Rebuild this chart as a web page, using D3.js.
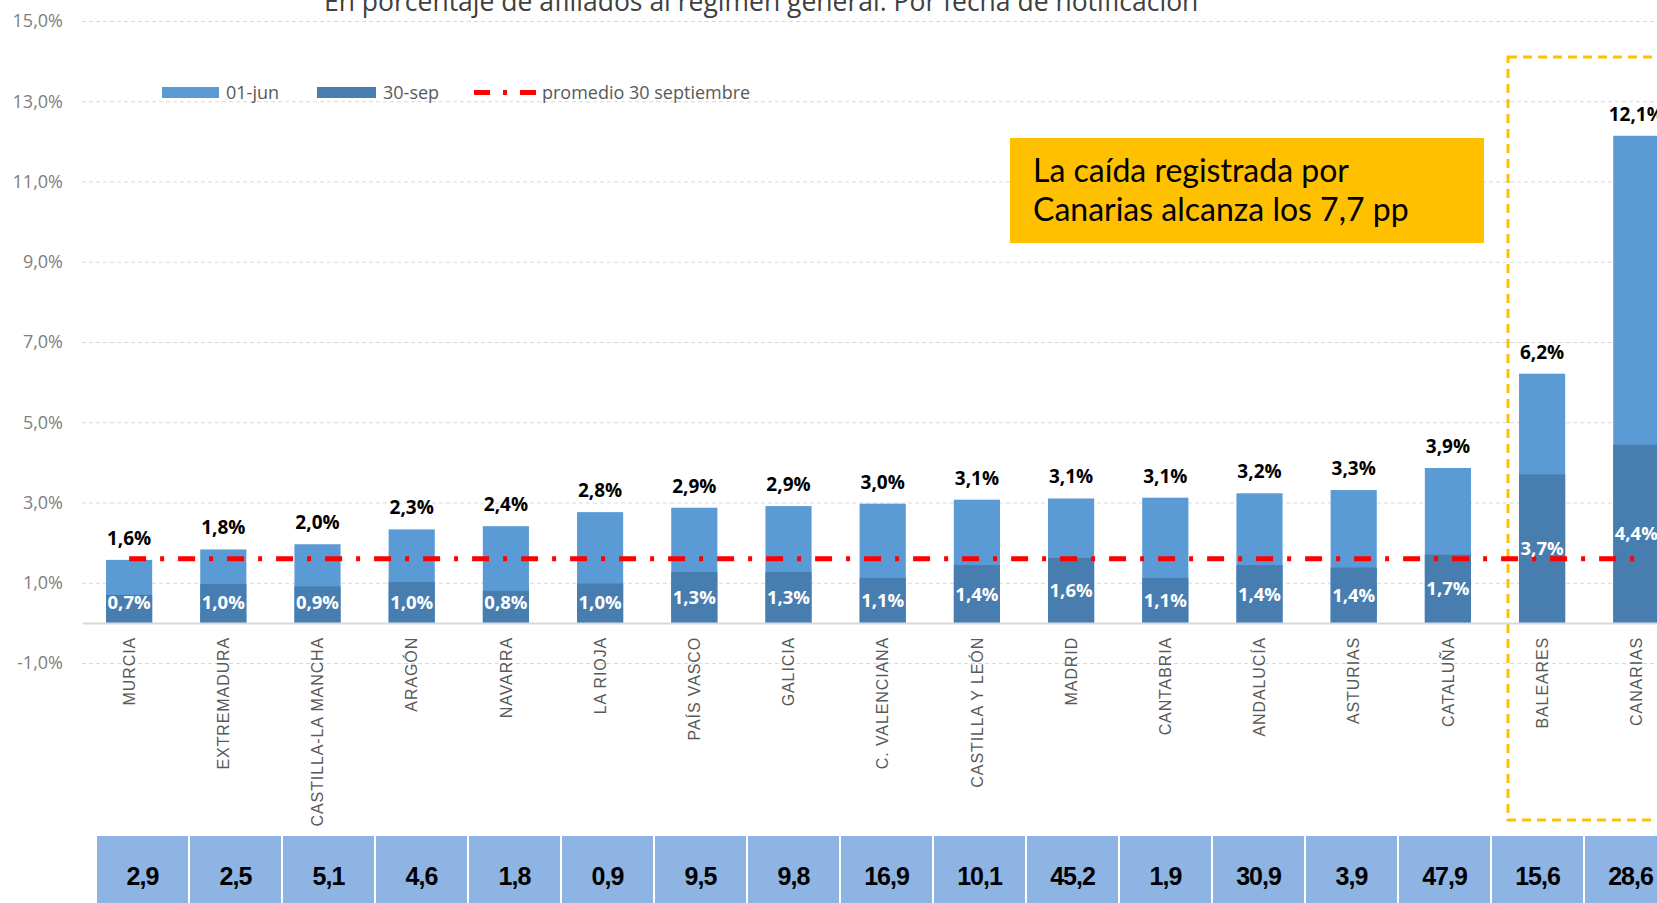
<!DOCTYPE html>
<html>
<head>
<meta charset="utf-8">
<script src="https://cdn.jsdelivr.net/npm/d3@7"></script>
<style>
  body { margin: 0; background: #fff; overflow: hidden; }
  svg { display: block; font-family: "Open Sans", sans-serif; }
</style>
</head>
<body>
<div id="container"></div>
<script>
// chart data
var regiones = ["MURCIA", "EXTREMADURA", "CASTILLA-LA MANCHA", "ARAGÓN", "NAVARRA", "LA RIOJA",
  "PAÍS VASCO", "GALICIA", "C. VALENCIANA", "CASTILLA Y LEÓN", "MADRID", "CANTABRIA",
  "ANDALUCÍA", "ASTURIAS", "CATALUÑA", "BALEARES", "CANARIAS"];
var junio = [1.57, 1.83, 1.96, 2.33, 2.41, 2.76, 2.87, 2.91, 2.97, 3.07, 3.1, 3.12, 3.23, 3.31, 3.86, 6.21, 12.14];
var septiembre = [0.7, 0.97, 0.91, 1.02, 0.8, 0.98, 1.27, 1.27, 1.12, 1.44, 1.62, 1.12, 1.44, 1.38, 1.7, 3.7, 4.44];
var promedio = 1.6;
var afiliados = ["2,9", "2,5", "5,1", "4,6", "1,8", "0,9", "9,5", "9,8", "16,9", "10,1", "45,2", "1,9", "30,9", "3,9", "47,9", "15,6", "28,6"];
var yTicks = [-1, 1, 3, 5, 7, 9, 11, 13, 15];
var leyenda = ["01-jun", "30-sep", "promedio 30 septiembre"];
var titulo = "En porcentaje de afiliados al régimen general. Por fecha de notificación";
var nota = ["La caída registrada por", "Canarias alcanza los 7,7 pp"];

var w = 1657, h = 903;

var es = d3.formatLocale({ decimal: ",", thousands: ".", grouping: [3], currency: ["", "€"], minus: "-" });
var pct = function(v) { return es.format(".1f")(v) + "%"; };

var svg = d3.select("div#container")
  .append("svg")
  .attr("width", w)
  .attr("height", h)
  .attr("viewBox", `0 0 ${w} ${h}`);

// scales
var x = d3.scaleBand()
  .domain(regiones)
  .range([82, 82 + 17 * 94.2])
  .paddingInner(0.51)
  .paddingOuter(0.255);

var y = d3.scaleLinear()
  .domain([-1, 15])
  .range([663, 21]);

var tabla = d3.scaleBand()
  .domain(regiones)
  .range([96, 96 + 17 * 93]);

// title (cut at the top edge)
svg.append("text")
  .attr("x", 324)
  .attr("y", 11)
  .attr("font-size", 26.5)
  .attr("fill", "#404040")
  .text(titulo);

// highlight frame for the islands
svg.append("rect")
  .attr("x", 1508)
  .attr("y", 57)
  .attr("width", 200)
  .attr("height", 763)
  .attr("fill", "none")
  .attr("stroke", "#FFC000")
  .attr("stroke-width", 3)
  .attr("stroke-dasharray", "9,6");

// y axis + gridlines
var yAxis = svg.append("g")
  .attr("transform", "translate(82,0)")
  .call(d3.axisLeft(y)
    .tickValues(yTicks)
    .tickSize(-(w - 82))
    .tickPadding(19)
    .tickFormat(pct));

yAxis.select(".domain").remove();
yAxis.selectAll(".tick line")
  .attr("stroke", "#D9D9D9")
  .attr("stroke-dasharray", "4,3");
yAxis.selectAll(".tick text")
  .attr("fill", "#808080")
  .attr("font-size", 18)
  .attr("font-family", "Open Sans, sans-serif");

// bars: 01-jun behind, 30-sep in front
svg.append("g")
  .selectAll("rect")
  .data(regiones)
  .enter().append("rect")
  .attr("x", function(d) { return x(d); })
  .attr("width", x.bandwidth())
  .attr("y", function(d, i) { return y(junio[i]); })
  .attr("height", function(d, i) { return y(0) - y(junio[i]); })
  .attr("fill", "#5B9BD5");

svg.append("g")
  .selectAll("rect")
  .data(regiones)
  .enter().append("rect")
  .attr("x", function(d) { return x(d); })
  .attr("width", x.bandwidth())
  .attr("y", function(d, i) { return y(septiembre[i]); })
  .attr("height", function(d, i) { return y(0) - y(septiembre[i]); })
  .attr("fill", "#487DB0");

// x axis
var xAxis = svg.append("g")
  .attr("transform", "translate(0," + y(0) + ")")
  .call(d3.axisBottom(x).tickSize(0).tickSizeOuter(0));

xAxis.select(".domain")
  .attr("stroke", "#D9D9D9")
  .attr("stroke-width", 2);
xAxis.selectAll(".tick text")
  .attr("transform", "rotate(-90)")
  .attr("x", -14)
  .attr("y", 0)
  .attr("dy", "0.36em")
  .style("text-anchor", "end")
  .attr("fill", "#595959")
  .attr("font-size", 16)
  .attr("letter-spacing", 0.9)
  .attr("font-family", "Liberation Sans, Arial, sans-serif");

// average line
var linea = d3.line()
  .x(function(d) { return x(d) + x.bandwidth() / 2; })
  .y(function() { return y(promedio); });

svg.append("path")
  .datum(regiones)
  .attr("d", linea)
  .attr("fill", "none")
  .attr("stroke", "#FF0000")
  .attr("stroke-width", 5)
  .attr("stroke-dasharray", "17,14,4,14");

// labels on top of bars
svg.append("g")
  .selectAll("text")
  .data(regiones)
  .enter().append("text")
  .attr("x", function(d) { return x(d) + x.bandwidth() / 2; })
  .attr("y", function(d, i) { return y(junio[i]) - 15; })
  .attr("text-anchor", "middle")
  .attr("font-size", 19)
  .attr("font-weight", "bold")
  .attr("fill", "#000")
  .text(function(d, i) { return pct(junio[i]); });

// labels inside dark bars
svg.append("g")
  .selectAll("text")
  .data(regiones)
  .enter().append("text")
  .attr("x", function(d) { return x(d) + x.bandwidth() / 2; })
  .attr("y", function(d, i) { return Math.min(y(septiembre[i] / 2), y(0) - 21); })
  .attr("dy", "0.36em")
  .attr("text-anchor", "middle")
  .attr("font-size", 18.5)
  .attr("font-weight", "bold")
  .attr("fill", "#fff")
  .text(function(d, i) { return pct(septiembre[i]); });

// legend
svg.append("rect").attr("x", 162).attr("y", 87).attr("width", 57).attr("height", 11).attr("fill", "#5B9BD5");
svg.append("rect").attr("x", 317).attr("y", 87).attr("width", 59).attr("height", 11).attr("fill", "#487DB0");
svg.append("line")
  .attr("x1", 474).attr("x2", 537)
  .attr("y1", 92.5).attr("y2", 92.5)
  .attr("stroke", "#FF0000")
  .attr("stroke-width", 5)
  .attr("stroke-dasharray", "16,13,4,13");

svg.append("g")
  .selectAll("text")
  .data(leyenda)
  .enter().append("text")
  .attr("x", function(d, i) { return [226, 383, 542][i]; })
  .attr("y", 92.5)
  .attr("dy", "0.36em")
  .attr("font-size", 18)
  .attr("fill", "#595959")
  .text(function(d) { return d; });

// annotation box
svg.append("rect")
  .attr("x", 1010)
  .attr("y", 138)
  .attr("width", 474)
  .attr("height", 105)
  .attr("fill", "#FFC000");

svg.append("g")
  .selectAll("text")
  .data(nota)
  .enter().append("text")
  .attr("x", 1033)
  .attr("y", function(d, i) { return 182 + i * 39; })
  .attr("font-size", 32)
  .attr("font-family", "Lato, sans-serif")
  .attr("fill", "#000")
  .text(function(d) { return d; });

// bottom table with affiliates
var celdas = svg.append("g")
  .selectAll("g")
  .data(regiones)
  .enter().append("g");

celdas.append("rect")
  .attr("x", function(d) { return tabla(d); })
  .attr("y", 835)
  .attr("width", tabla.bandwidth())
  .attr("height", 80)
  .attr("fill", "#8EB4E3")
  .attr("stroke", "#fff")
  .attr("stroke-width", 2);

celdas.append("text")
  .attr("x", function(d) { return tabla(d) + tabla.bandwidth() / 2; })
  .attr("y", 876)
  .attr("dy", "0.36em")
  .attr("text-anchor", "middle")
  .attr("font-size", 25)
  .attr("font-weight", "bold")
  .attr("letter-spacing", -1)
  .attr("font-family", "Liberation Sans Narrow, Arial Narrow, sans-serif")
  .attr("fill", "#000")
  .text(function(d, i) { return afiliados[i]; });
</script>
</body>
</html>
